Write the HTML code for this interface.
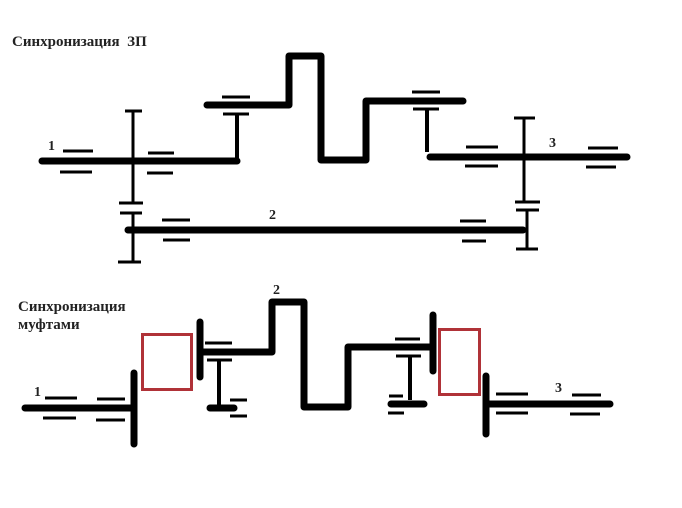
<!DOCTYPE html>
<html><head><meta charset="utf-8"><style>body{margin:0;background:#fff}svg{display:block}</style></head><body>
<svg width="682" height="508" viewBox="0 0 682 508" xmlns="http://www.w3.org/2000/svg">
<rect width="682" height="508" fill="#fff"/>
<g font-family="Liberation Serif, serif" font-weight="bold" fill="#222">
<text x="12" y="46" font-size="15">Синхронизация&#160;&#160;ЗП</text>
<text x="48" y="150" font-size="14">1</text>
<text x="269" y="219" font-size="14">2</text>
<text x="549" y="147" font-size="14">3</text>
<text x="18" y="311" font-size="15">Синхронизация</text>
<text x="18" y="329" font-size="15">муфтами</text>
<text x="34" y="396" font-size="14">1</text>
<text x="273" y="294" font-size="14">2</text>
<text x="555" y="392" font-size="14">3</text>
</g>
<g stroke="#000" fill="none">
<path stroke-width="7" stroke-linecap="round" stroke-linejoin="round" d="M42 161H237 M128 230H523 M207 105H289V56H321V160H366V101H463 M430 157H627 M25 408H133 M134 373V444 M200 322V377 M200 352H272V302H304V407H348V347H433 M433 315V371 M486 376V434 M486 404H610 M210 408H234 M391 404H424"/>
<path stroke-width="4" d="M237 161V114 M427 109V152 M219 360V405 M410 356V400"/>
<path stroke-width="3" d="M133 111V203 M133 213V262 M125 111H142 M119 203H143 M120 213H142 M118 262H141 M524 118V203 M527 210V249 M514 118H535 M515 202H540 M516 210H539 M516 249H538 M63 151H93 M60 172H92 M148 153H174 M147 173H173 M162 220H190 M163 240H190 M460 221H486 M462 241H486 M222 97H250 M223 114H249 M412 92H440 M413 109H439 M466 147H498 M465 166H498 M588 148H618 M586 167H616 M45 398H77 M43 418H76 M97 399H125 M96 420H125 M205 343H232 M207 360H232 M230 400H247 M230 416H247 M395 339H420 M396 356H421 M389 396H403 M388 413H404 M496 394H528 M496 413H528 M572 395H601 M570 414H600"/>
</g>
<rect x="142.5" y="334.5" width="49" height="55" fill="none" stroke="#b03238" stroke-width="3"/>
<rect x="439.5" y="329.5" width="40" height="65" fill="none" stroke="#b03238" stroke-width="3"/>
</svg>
</body></html>
